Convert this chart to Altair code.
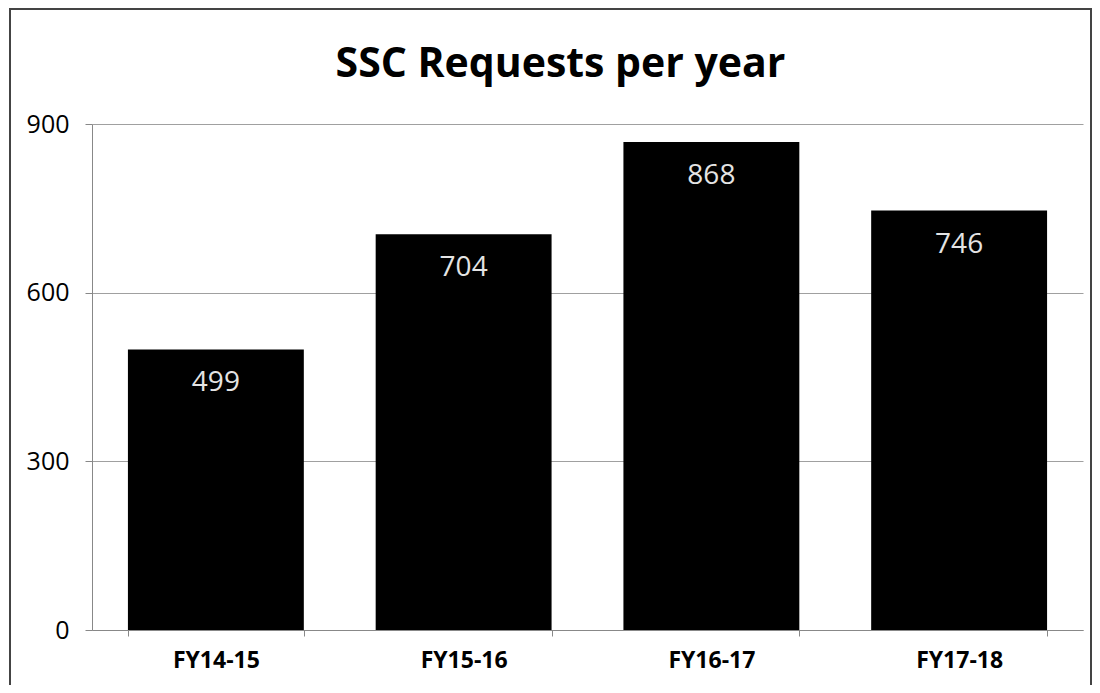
import altair as alt
import pandas as pd

categories = ["FY14-15", "FY15-16", "FY16-17", "FY17-18"]
requests = [499, 704, 868, 746]
y_ticks = [0, 300, 600, 900]

df = pd.DataFrame({"year": categories, "requests": requests})
frame_df = pd.DataFrame({"k": [0]})

x_enc = alt.X(
    "year:N",
    sort=categories,
    scale=alt.Scale(paddingInner=0.29, paddingOuter=0.145),
    axis=alt.Axis(
        title=None, labelAngle=0, labelFont="Open Sans", labelFontWeight="bold",
        labelFontSize=23, labelColor="#000000", labelPadding=13,
        tickBand="extent", ticks=True, tickSize=6, tickColor="#888888",
        domainColor="#888888", grid=False,
    ),
)
y_enc = alt.Y(
    "requests:Q",
    scale=alt.Scale(domain=[0, 900], nice=False),
    axis=alt.Axis(
        title=None, values=y_ticks, labelFont="Open Sans", labelFontSize=25,
        labelColor="#000000", labelPadding=16, tickSize=7, tickColor="#888888",
        domainColor="#888888", grid=True, gridColor="#a0a0a0", gridWidth=1,
    ),
)

bars = alt.Chart(df).mark_bar(color="#000000").encode(x=x_enc, y=y_enc)

labels = alt.Chart(df).mark_text(
    font="Open Sans", fontSize=28, color="#e4e4e4", baseline="middle", dy=34
).encode(x=alt.X("year:N", sort=categories), y="requests:Q", text="requests:Q")

border = alt.Chart(frame_df).mark_rect(
    fill=None, stroke="#444444", strokeWidth=2
).encode(
    x=alt.value(-82), x2=alt.value(999), y=alt.value(-115), y2=alt.value(640)
)

chart = alt.layer(bars, labels, border).properties(
    width=991,
    height=506,
    title=alt.TitleParams(
        "SSC Requests per year", font="Open Sans", fontSize=41, fontWeight="bold",
        color="#000000", anchor="middle", dx=-27, baseline="alphabetic", offset=-110,
    ),
    autosize=alt.AutoSizeParams(type="none"),
    padding={"left": 84, "top": 116, "right": 9, "bottom": 55},
).configure_view(stroke=None)

chart.save("out.html", embed_options={"renderer": "svg", "actions": False})
